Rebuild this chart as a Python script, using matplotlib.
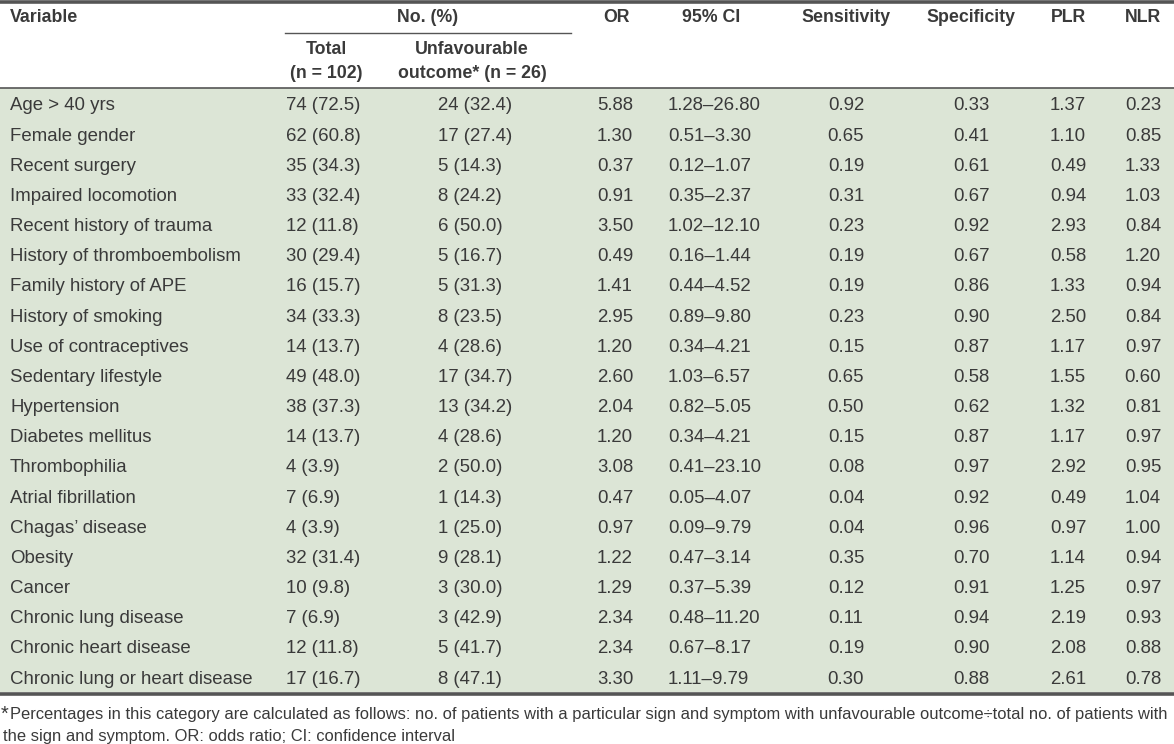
import matplotlib.pyplot as plt

# Table data
variables = ["Age > 40 yrs", "Female gender", "Recent surgery", "Impaired locomotion",
             "Recent history of trauma", "History of thromboembolism", "Family history of APE",
             "History of smoking", "Use of contraceptives", "Sedentary lifestyle", "Hypertension",
             "Diabetes mellitus", "Thrombophilia", "Atrial fibrillation", "Chagas\u2019 disease",
             "Obesity", "Cancer", "Chronic lung disease", "Chronic heart disease",
             "Chronic lung or heart disease"]
total = ["74 (72.5)", "62 (60.8)", "35 (34.3)", "33 (32.4)", "12 (11.8)", "30 (29.4)",
         "16 (15.7)", "34 (33.3)", "14 (13.7)", "49 (48.0)", "38 (37.3)", "14 (13.7)",
         "4 (3.9)", "7 (6.9)", "4 (3.9)", "32 (31.4)", "10 (9.8)", "7 (6.9)", "12 (11.8)",
         "17 (16.7)"]
unfav = ["24 (32.4)", "17 (27.4)", "5 (14.3)", "8 (24.2)", "6 (50.0)", "5 (16.7)", "5 (31.3)",
         "8 (23.5)", "4 (28.6)", "17 (34.7)", "13 (34.2)", "4 (28.6)", "2 (50.0)", "1 (14.3)",
         "1 (25.0)", "9 (28.1)", "3 (30.0)", "3 (42.9)", "5 (41.7)", "8 (47.1)"]
odds = ["5.88", "1.30", "0.37", "0.91", "3.50", "0.49", "1.41", "2.95", "1.20", "2.60", "2.04",
        "1.20", "3.08", "0.47", "0.97", "1.22", "1.29", "2.34", "2.34", "3.30"]
ci = ["1.28\u201326.80", "0.51\u20133.30", "0.12\u20131.07", "0.35\u20132.37", "1.02\u201312.10",
      "0.16\u20131.44", "0.44\u20134.52", "0.89\u20139.80", "0.34\u20134.21", "1.03\u20136.57",
      "0.82\u20135.05", "0.34\u20134.21", "0.41\u201323.10", "0.05\u20134.07", "0.09\u20139.79",
      "0.47\u20133.14", "0.37\u20135.39", "0.48\u201311.20", "0.67\u20138.17", "1.11\u20139.79"]
sens = ["0.92", "0.65", "0.19", "0.31", "0.23", "0.19", "0.19", "0.23", "0.15", "0.65", "0.50",
        "0.15", "0.08", "0.04", "0.04", "0.35", "0.12", "0.11", "0.19", "0.30"]
spec = ["0.33", "0.41", "0.61", "0.67", "0.92", "0.67", "0.86", "0.90", "0.87", "0.58", "0.62",
        "0.87", "0.97", "0.92", "0.96", "0.70", "0.91", "0.94", "0.90", "0.88"]
plr = ["1.37", "1.10", "0.49", "0.94", "2.93", "0.58", "1.33", "2.50", "1.17", "1.55", "1.32",
       "1.17", "2.92", "0.49", "0.97", "1.14", "1.25", "2.19", "2.08", "2.61"]
nlr = ["0.23", "0.85", "1.33", "1.03", "0.84", "1.20", "0.94", "0.84", "0.97", "0.60", "0.81",
       "0.97", "0.95", "1.04", "1.00", "0.94", "0.97", "0.93", "0.88", "0.78"]

footnote1 = ("Percentages in this category are calculated as follows: no. of patients with a particular "
             "sign and symptom with unfavourable outcome\u00f7total no. of patients with")
footnote2 = "the sign and symptom. OR: odds ratio; CI: confidence interval"

plt.rcParams['font.family'] = ['Liberation Sans', 'DejaVu Sans']
text_color = "#3a3a3a"
line_color = "#555555"
bg_green = "#dce5d6"
fs = 13.4
hfs = 12.8
dy = 2  # small shift so centred text sits like the reference

fig = plt.figure(figsize=(11.74, 7.44), dpi=100)
ax = fig.add_axes([0, 0, 1, 1])
ax.set_xlim(0, 1174)
ax.set_ylim(744, 0)
ax.axis("off")

# Background of body
ax.fill_between([0, 1174], 88, 692, color=bg_green, lw=0)

# Rules
ax.plot([0, 1174], [1.5, 1.5], color=line_color, lw=2.6)
ax.plot([285, 571], [33, 33], color=line_color, lw=1.0)
ax.plot([0, 1174], [88, 88], color=line_color, lw=1.2)
ax.plot([0, 1174], [693.5, 693.5], color=line_color, lw=2.6)

# Header
hkw = dict(fontsize=hfs, fontweight="bold", color=text_color, va="center")
ax.text(10, 16 + dy, "Variable", ha="left", **hkw)
ax.text(428, 16 + dy, "No. (%)", ha="center", **hkw)
ax.text(326, 48 + dy, "Total", ha="center", **hkw)
ax.text(326, 72 + dy, "(n = 102)", ha="center", **hkw)
ax.text(472, 48 + dy, "Unfavourable", ha="center", **hkw)
ax.text(472, 72 + dy, "outcome* (n = 26)", ha="center", **hkw)
for x, lab in [(617, "OR"), (711, "95% CI"), (846, "Sensitivity"), (971, "Specificity"),
               (1068, "PLR"), (1143, "NLR")]:
    ax.text(x, 16 + dy, lab, ha="center", **hkw)

# Body rows
row0 = 104
pitch = (677 - 104) / 19
bkw = dict(fontsize=fs, color=text_color, va="center")
for i in range(len(variables)):
    y = row0 + i * pitch + dy
    ax.text(10, y, variables[i], ha="left", **bkw)
    ax.text(286, y, total[i], ha="left", **bkw)
    ax.text(438, y, unfav[i], ha="left", **bkw)
    ax.text(615, y, odds[i], ha="center", **bkw)
    ax.text(668, y, ci[i], ha="left", **bkw)
    ax.text(846, y, sens[i], ha="center", **bkw)
    ax.text(971, y, spec[i], ha="center", **bkw)
    ax.text(1068, y, plr[i], ha="center", **bkw)
    ax.text(1143, y, nlr[i], ha="center", **bkw)

# Footnote
ax.text(1, 714, "*", ha="left", va="center", fontsize=fs + 1, color=text_color)
ax.text(10, 714, footnote1, ha="left", va="center", fontsize=11.9, color=text_color)
ax.text(3, 737, footnote2, ha="left", va="center", fontsize=11.9, color=text_color)

plt.savefig("out.png", dpi=100)
